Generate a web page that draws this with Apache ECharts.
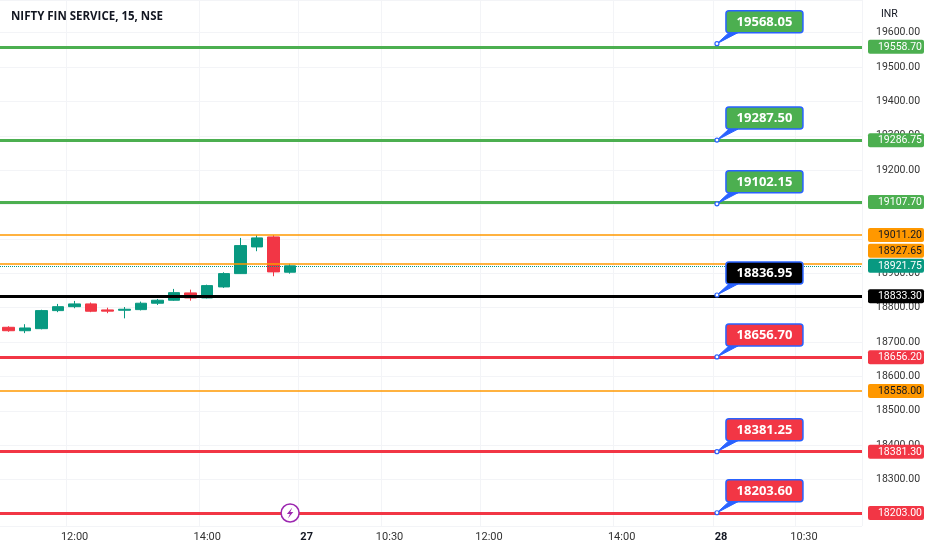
<!DOCTYPE html>
<html>
<head>
<meta charset="utf-8">
<script src="https://cdn.jsdelivr.net/npm/echarts@6/dist/echarts.min.js"></script>
<style>
html,body{margin:0;padding:0;background:#fff;}
#chart{width:932px;height:550px;}
</style>
</head>
<body>
<div id="chart"></div>
<script>
// ---------- data ----------
const categories = [
  '26 11:00','26 11:15','26 11:30','26 11:45','26 12:00','26 12:15','26 12:30','26 12:45','26 13:00',
  '26 13:15','26 13:30','26 13:45','26 14:00','26 14:15','26 14:30','26 14:45','26 15:00','26 15:15',
  '27 09:15','27 09:30','27 09:45','27 10:00','27 10:15','27 10:30','27 10:45','27 11:00','27 11:15',
  '27 11:30','27 11:45','27 12:00','27 12:15','27 12:30','27 12:45','27 13:00','27 13:15','27 13:30',
  '27 13:45','27 14:00','27 14:15','27 14:30','27 14:45','27 15:00','27 15:15',
  '28 09:15','28 09:30','28 09:45','28 10:00','28 10:15','28 10:30','28 10:45','28 11:00','28 11:15'
];
const xTickCategories = ['26 12:00','26 14:00','27 09:15','27 10:30','27 12:00','27 14:00','28 09:15','28 10:30'];
// candles: [open, close, low, high]
const candles = [
  [18743.0, 18733.0, 18730.0, 18746.0],
  [18733.0, 18741.0, 18726.0, 18752.0],
  [18739.0, 18791.5, 18737.0, 18794.0],
  [18791.5, 18803.0, 18787.0, 18811.0],
  [18803.0, 18811.0, 18798.4, 18819.7],
  [18811.0, 18789.7, 18787.0, 18815.0],
  [18793.5, 18790.0, 18784.0, 18800.0],
  [18792.6, 18795.5, 18769.0, 18802.0],
  [18794.4, 18813.0, 18792.0, 18817.7],
  [18813.0, 18821.7, 18808.0, 18825.5],
  [18821.7, 18843.8, 18820.0, 18854.6],
  [18843.0, 18828.4, 18820.5, 18852.5],
  [18828.4, 18864.2, 18827.0, 18867.0],
  [18860.4, 18899.1, 18857.5, 18903.0],
  [18899.1, 18980.6, 18898.0, 19003.0],
  [18976.8, 19003.0, 18964.3, 19011.2],
  [19005.9, 18904.1, 18891.5, 19011.2],
  [18903.2, 18921.75, 18899.0, 18927.65]
];
const greenLevels  = [19558.70, 19286.75, 19107.70];
const redLevels    = [18656.20, 18381.30, 18203.00];
const blackLevels  = [18833.30];
const orangeLevels = [19011.20, 18927.65, 18558.00];
const lastPrice    = [18921.75];
const greenCallouts = [19568.05, 19287.50, 19102.15];
const blackCallouts = [18836.95];
const redCallouts   = [18656.70, 18381.25, 18203.60];
const eventCategory = '26 15:15';
const calloutCategory = '28 09:15';
const axisMin = 18165, axisMax = 19695;

// ---------- styles ----------
const C = {
  up: '#089981', down: '#f23645', green: '#4caf50', red: '#f23645',
  black: '#000000', orange: '#ff9800', teal: '#089981', blue: '#2962ff'
};
const FONT = 'Roboto, "Open Sans", sans-serif';

const levelGroups = [
  {vals: greenLevels, color: C.green, width: 3, type: 'solid', tagText: '#fff'},
  {vals: redLevels, color: C.red, width: 3, type: 'solid', tagText: '#fff'},
  {vals: blackLevels, color: C.black, width: 3, type: 'solid', tagText: '#fff'},
  {vals: orangeLevels, color: C.orange, width: 1.5, type: 'solid', tagText: '#131722'},
  {vals: lastPrice, color: C.teal, width: 1, type: 'dotted', tagText: '#fff'}
];
const markLines = [];
const tags = [];
levelGroups.forEach(g => g.vals.forEach(v => {
  markLines.push({yAxis: v, lineStyle: {color: g.color, width: g.width, type: g.type, opacity: 1}});
  tags.push({value: v, color: g.color, text: g.tagText});
}));

const calloutGroups = [
  {vals: greenCallouts, fill: C.green},
  {vals: blackCallouts, fill: C.black},
  {vals: redCallouts, fill: C.red}
];
const callouts = [];
calloutGroups.forEach(g => g.vals.forEach(v => callouts.push({value: v, fill: g.fill})));

const chart = echarts.init(document.getElementById('chart'), null, {renderer: 'canvas'});

const TAG_H = 14;
function tagPositions(api) {
  const items = tags.map((t, i) => ({i, y: api.coord([0, t.value])[1]}));
  items.sort((a, b) => b.y - a.y);
  let prev = Infinity;
  const out = {};
  items.forEach(it => {
    let y = Math.min(it.y, prev - (TAG_H + 1));
    out[it.i] = y;
    prev = y;
  });
  return out;
}

const calloutIdx = categories.indexOf(calloutCategory);

const option = {
  backgroundColor: '#ffffff',
  animation: false,
  title: [
    {text: 'NIFTY FIN SERVICE, 15, NSE', left: 6, top: 6,
     textStyle: {fontFamily: '"Open Sans", sans-serif', fontSize: 11.5, fontWeight: 'bold', color: '#131722'}},
    {text: 'INR', left: 876, top: 4,
     textStyle: {fontFamily: FONT, fontSize: 10.5, fontWeight: 'normal', color: '#131722'}}
  ],
  grid: {left: -2.5, right: 70, top: 0, bottom: 24, containLabel: false},
  xAxis: {
    type: 'category',
    data: categories,
    boundaryGap: true,
    axisLine: {show: false},
    axisTick: {show: false},
    axisLabel: {
      interval: (i, v) => xTickCategories.indexOf(v) >= 0,
      hideOverlap: false,
      margin: 6,
      fontFamily: FONT, fontSize: 11, color: '#333',
      formatter: v => {
        const [d, t] = v.split(' ');
        return t === '09:15' ? '{day|' + d + '}' : t;
      },
      rich: {day: {fontFamily: FONT, fontSize: 11, fontWeight: 'bold', color: '#131722'}}
    },
    splitLine: {show: true, interval: (i, v) => xTickCategories.indexOf(v) >= 0,
      lineStyle: {color: '#f3f4f7', width: 1}}
  },
  yAxis: {
    type: 'value',
    position: 'right',
    min: axisMin, max: axisMax,
    splitNumber: 15,
    scale: true,
    axisLine: {show: false},
    axisTick: {show: false},
    axisLabel: {
      margin: 14, fontFamily: FONT, fontSize: 10.5, color: '#333',
      showMinLabel: false, showMaxLabel: false,
      formatter: v => v.toFixed(2)
    },
    splitLine: {show: true, lineStyle: {color: '#f3f4f7', width: 1}}
  },
  series: [
    {
      type: 'candlestick',
      data: candles,
      barWidth: 12,
      itemStyle: {color: C.up, color0: C.down, borderColor: C.up, borderColor0: C.down, borderWidth: 1},
      markLine: {
        silent: true, symbol: ['none', 'none'], animation: false,
        label: {show: false},
        emphasis: {disabled: true},
        data: markLines
      },
      z: 3
    },
    {
      // price tags on the right scale
      type: 'custom',
      coordinateSystem: 'cartesian2d',
      data: tags.map(t => [0, t.value]),
      z: 10,
      clip: false,
      renderItem: (params, api) => {
        const t = tags[params.dataIndex];
        const pos = tagPositions(api);
        const y = pos[params.dataIndex];
        const cs = params.coordSys;
        const x0 = cs.x + cs.width + 6;
        return {
          type: 'group',
          children: [
            {type: 'rect', shape: {x: x0, y: y - TAG_H / 2, width: 56, height: TAG_H, r: 2},
             style: {fill: t.color}},
            {type: 'text', style: {x: x0 + 54, y: y + 0.5, text: t.value.toFixed(2), align: 'right',
              verticalAlign: 'middle', fill: t.text, font: '10.5px ' + FONT}}
          ]
        };
      }
    },
    {
      // callouts
      type: 'custom',
      coordinateSystem: 'cartesian2d',
      data: callouts.map(c => [calloutIdx, c.value]),
      z: 11,
      clip: false,
      renderItem: (params, api) => {
        const c = callouts[params.dataIndex];
        const p1 = api.coord([calloutIdx, c.value]);
        const p0 = api.coord([calloutIdx - 1, c.value]);
        const ax = p0[0] + (p1[0] - p0[0]) * 0.75;
        const ay = p1[1];
        const bx = ax + 9, by = ay - 33, bw = 77, bh = 22;
        return {
          type: 'group',
          children: [
            {type: 'polygon', shape: {points: [[ax, ay], [ax + 12, by + bh], [ax + 21, by + bh]]},
             style: {fill: C.blue, stroke: C.blue, lineWidth: 1}},
            {type: 'rect', shape: {x: bx, y: by, width: bw, height: bh, r: 3},
             style: {fill: c.fill, stroke: C.blue, lineWidth: 1.5}},
            {type: 'text', style: {x: bx + bw / 2, y: by + bh / 2 + 0.5, text: c.value.toFixed(2),
              align: 'center', verticalAlign: 'middle', fill: '#fff',
              font: 'bold 13px "Open Sans", sans-serif'}},
            {type: 'circle', shape: {cx: ax, cy: ay, r: 2}, style: {fill: '#fff', stroke: C.blue, lineWidth: 1.2}}
          ]
        };
      }
    },
    {
      // event marker
      type: 'custom',
      coordinateSystem: 'cartesian2d',
      data: [[categories.indexOf(eventCategory), axisMin]],
      z: 12,
      clip: false,
      renderItem: (params, api) => {
        const p = api.coord([categories.indexOf(eventCategory), axisMin]);
        const cx = p[0], cy = p[1] - 13;
        return {
          type: 'group',
          children: [
            {type: 'circle', shape: {cx, cy, r: 9}, style: {fill: '#fff', stroke: '#9c27b0', lineWidth: 1.5}},
            {type: 'polygon', shape: {points: [
              [cx + 2.2, cy - 5.5], [cx - 3.2, cy + 1], [cx - 0.2, cy + 1],
              [cx - 2.2, cy + 5.5], [cx + 3.2, cy - 1], [cx + 0.2, cy - 1]
            ]}, style: {fill: '#9c27b0'}}
          ]
        };
      }
    }
  ]
};
chart.setOption(option);
</script>
</body>
</html>
